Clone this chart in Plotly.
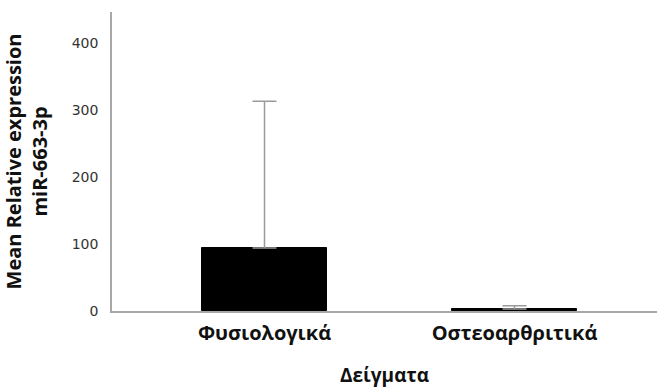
import plotly.graph_objects as go

# Mean relative expression of miR-663-3p per sample group
categories = ["Φυσιολογικά", "Οστεοαρθριτικά"]
means = [94, 3]
error_upper = [219, 5]
y_ticks = [0, 100, 200, 300, 400]

fig = go.Figure()
fig.add_trace(go.Bar(
    x=categories,
    y=means,
    width=0.5,
    marker=dict(color="black", line=dict(color="black", width=1)),
    error_y=dict(
        type="data",
        symmetric=False,
        array=error_upper,
        arrayminus=[0, 0],
        color="#9a9a9a",
        thickness=1.5,
        width=12,
    ),
))

fig.update_layout(
    width=657,
    height=392,
    margin=dict(l=112, r=0, t=12, b=81),
    paper_bgcolor="white",
    plot_bgcolor="white",
    showlegend=False,
    bargap=0,
)

fig.update_xaxes(
    range=[-0.61, 1.57],
    showline=True,
    linecolor="#a8a8a8",
    linewidth=1.5,
    showgrid=False,
    ticks="",
    tickfont=dict(family="Open Sans", size=20, color="#111111", weight="bold"),
    ticklabelstandoff=3,
    title=dict(
        text="Δείγματα",
        font=dict(family="Open Sans", size=19, color="#111111", weight="bold"),
        standoff=24,
    ),
)

fig.update_yaxes(
    range=[0, 446],
    tickvals=y_ticks,
    showline=True,
    linecolor="#a8a8a8",
    linewidth=1.5,
    showgrid=False,
    zeroline=False,
    ticks="",
    tickfont=dict(family="DejaVu Sans", size=14, color="#333333"),
    ticklabelstandoff=9,
    title=dict(
        text="Mean Relative expression<br>miR-663-3p",
        font=dict(family="Open Sans", size=20, color="#111111", weight="bold"),
        standoff=22,
    ),
)

fig.write_html("out.html")
